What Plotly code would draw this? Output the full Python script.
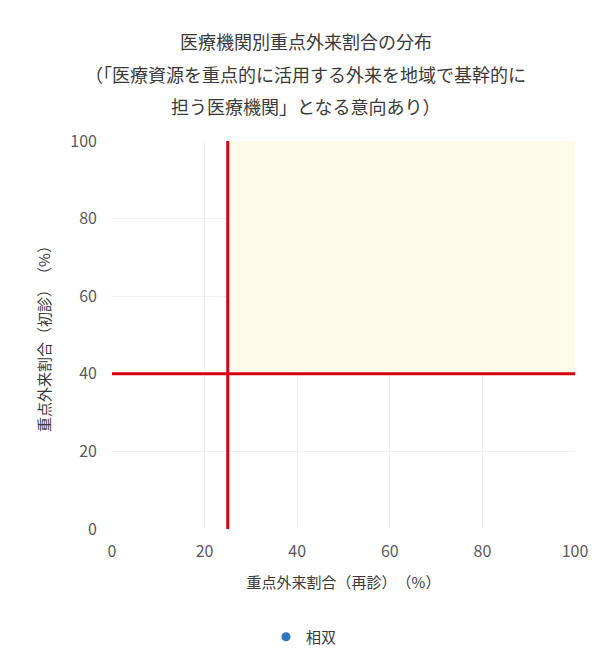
import plotly.graph_objects as go

# Series: 相双 (no hospitals plotted in range)
soso_x = [None]
soso_y = [None]

# Threshold lines (再診 25%, 初診 40%)
threshold_x = 25
threshold_y = 40
axis_min = 0
axis_max = 100
tick_vals = [0, 20, 40, 60, 80, 100]

title_lines = [
    "医療機関別重点外来割合の分布",
    "（「医療資源を重点的に活用する外来を地域で基幹的に",
    "担う医療機関」となる意向あり）",
]
x_title = "重点外来割合（再診）\u3000（%）"
y_title = "重点外来割合（初診）\u3000（%）"
series_name = "相双"

FONT = "Noto Sans CJK JP, Noto Sans, sans-serif"
TEXT = "#3a3a3a"
TICK = "#595959"
RED = "#d7000f"

fig = go.Figure()

# Shaded quadrant above both thresholds
fig.add_trace(go.Scatter(
    x=[threshold_x, axis_max, axis_max, threshold_x, threshold_x],
    y=[threshold_y, threshold_y, axis_max, axis_max, threshold_y],
    fill="toself", fillcolor="rgb(254,251,234)",
    line=dict(width=0), mode="lines", showlegend=False, hoverinfo="skip",
))

# Threshold lines
fig.add_trace(go.Scatter(
    x=[threshold_x, threshold_x], y=[axis_min, axis_max], mode="lines",
    line=dict(color=RED, width=3), showlegend=False, hoverinfo="skip",
))
fig.add_trace(go.Scatter(
    x=[axis_min, axis_max], y=[threshold_y, threshold_y], mode="lines",
    line=dict(color=RED, width=3), showlegend=False, hoverinfo="skip",
))

# Hospital series
fig.add_trace(go.Scatter(
    x=soso_x, y=soso_y, mode="markers", name=series_name,
    marker=dict(color="#2e75c6", size=9), showlegend=True,
))

annotations = []
for text, ypix in zip(title_lines, [41, 74, 106]):
    annotations.append(dict(
        text=text, xref="paper", yref="paper",
        x=(305.5 - 112) / 463, y=(530 - ypix) / 389,
        xanchor="center", yanchor="middle", showarrow=False,
        font=dict(family=FONT, size=18, color=TEXT),
    ))

fig.update_layout(
    width=611, height=664,
    margin=dict(l=112, r=36, t=141, b=134),
    paper_bgcolor="white", plot_bgcolor="white",
    font=dict(family=FONT, color=TEXT),
    annotations=annotations,
    showlegend=True,
    legend=dict(
        orientation="h", x=(304 - 112) / 463, y=(530 - 637) / 389,
        xanchor="center", yanchor="middle",
        font=dict(family=FONT, size=15, color=TEXT),
    ),
    xaxis=dict(
        range=[axis_min, axis_max], tickvals=tick_vals,
        showgrid=True, gridcolor="#f0f0f0", gridwidth=1,
        zeroline=False, showline=False,
        tickfont=dict(family=FONT, size=16, color=TICK),
        ticklabelstandoff=11,
        title=dict(text=x_title, font=dict(family=FONT, size=15, color=TEXT), standoff=16),
    ),
    yaxis=dict(
        range=[axis_min, axis_max], tickvals=tick_vals,
        showgrid=True, gridcolor="#f0f0f0", gridwidth=1,
        zeroline=False, showline=False,
        tickfont=dict(family=FONT, size=16, color=TICK),
        ticklabelstandoff=14,
        title=dict(text=y_title, font=dict(family=FONT, size=15, color=TEXT), standoff=16),
    ),
)

fig.write_html("out.html")
